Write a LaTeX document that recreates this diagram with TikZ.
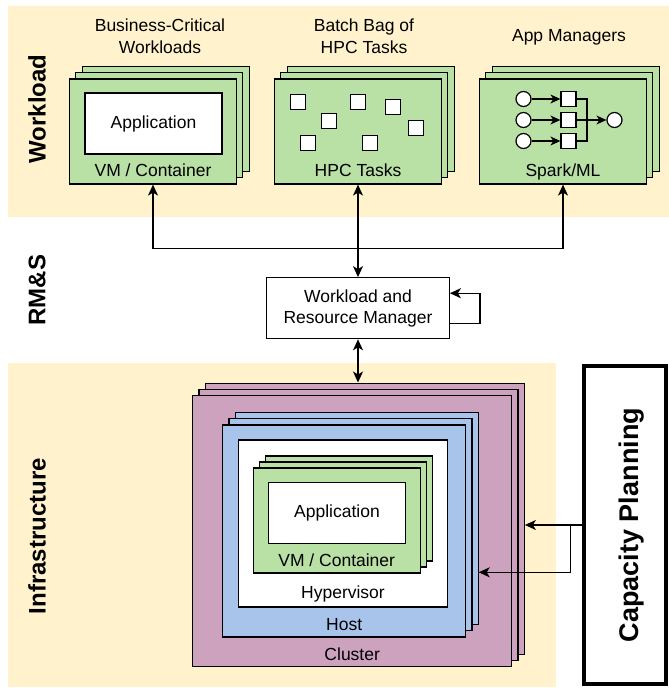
\documentclass[tikz,border=0pt]{standalone}
\usepackage{fontspec}
\setmainfont{Liberation Sans}
\usepackage{xcolor}
\usepackage{tikz}
\usetikzlibrary{positioning,arrows.meta}
\definecolor{bandbg}{HTML}{FFF2CC}
\definecolor{vmgreen}{HTML}{B9E0A5}
\definecolor{hostblue}{HTML}{A9C4EB}
\definecolor{clusterpink}{HTML}{CDA2BE}

\begin{document}
\begin{tikzpicture}[x=1pt,y=-1pt,line width=1.2pt,
>={Stealth[length=11pt,width=10pt,inset=3pt]},
txt/.style={font=\fontsize{17.5}{22}\selectfont,inner sep=0pt},
layer/.style={font=\fontsize{24}{28}\selectfont\bfseries,rotate=90,inner sep=0pt},
band/.style={fill=bandbg,draw=none},
box/.style={draw,rectangle,inner sep=0pt},
vmbox/.style={box,fill=vmgreen,minimum width=167pt,minimum height=105pt},
appbox/.style={box,fill=white,minimum width=137pt,minimum height=61pt},
clbox/.style={box,fill=clusterpink,minimum width=319pt,minimum height=271pt},
hostbox/.style={box,fill=hostblue,minimum width=243pt,minimum height=212pt},
task/.style={box,fill=white,minimum size=15pt},
stage/.style={box,circle,fill=white,minimum size=15pt},
small/.style={-{Stealth[length=10pt,width=9pt,inset=3pt]}}]
\useasboundingbox (0,0) rectangle (669,688);
\fill[band] (8,6) rectangle (669,217);
\fill[band] (8,363) rectangle (556,687);
\node[layer] (wl) at (37,109) {Workload};
\node[layer] (rms) at (37,290) {RM\&S};
\node[layer] (infra) at (37,536) {Infrastructure};

% workload stacks
\node[txt,align=center] (bctitle) at (160,36) {Business-Critical\\Workloads};
\node[txt,align=center] (batchtitle) at (364,36) {Batch Bag of\\HPC Tasks};
\node[txt,anchor=base] (apptitle) at (569,41) {App Managers};
\foreach \s/\cx in {vm/153,hpc/358,spark/563}
  \foreach \d in {2,1}
    \node[vmbox] (\s back\d) at (\cx+6.3*\d,131.5-6.3*\d) {};
\node[vmbox] (vm) at (153,131.5) {};
\node[vmbox] (hpc) at (358,131.5) {};
\node[vmbox] (spark) at (563,131.5) {};
\node[appbox,txt] (app) at (153.5,123.5) {Application};
\node[txt,anchor=base] (vmlbl) at (153,176.3) {VM / Container};
\node[txt,anchor=base] (hpclbl) at (358,176.3) {HPC Tasks};
\node[txt,anchor=base] (sparklbl) at (563,176.3) {Spark/ML};
\foreach \n/\x/\y in {1/298/102,2/358/102,3/393/107,4/329/121,5/416/128,6/308/143,7/370/143}
  \node[task] (task\n) at (\x,\y) {};
\foreach \r/\y in {a/99,b/120,c/141} {
  \node[stage] (in\r) at (523.5,\y) {};
  \node[task] (st\r) at (568.5,\y) {};
  \draw[small] (in\r) -- (st\r);
}
\node[stage] (out) at (614.5,120) {};
\coordinate (join) at (587,120);
\draw (sta.east) -| (join) |- (stc.east);
\draw[small] (stb) -- (out);

% resource manager
\node[box,txt,fill=white,align=center,minimum width=182.6pt,minimum height=61pt,
  font=\fontsize{17.5}{21}\selectfont] (rm) at (358,308.2) {Workload and\\Resource Manager};
\coordinate (hub) at (358,248.3);
\draw[->] (hub) -| (vm.south);
\draw[->] (hub) -| (spark.south);
\draw[<->] (rm.north) -- (hpc.south);
\draw[->] ([yshift=-15pt]rm.east) -- ++(30,0) |- ([yshift=15pt]rm.east);

% infrastructure
\foreach \d in {2,1}
  \node[clbox] (cl\d) at (352.2+6.3*\d,531.2-6.3*\d) {};
\node[clbox] (cluster) at (352.2,531.2) {};
\node[txt,anchor=base] (cllbl) at (352.2,660) {Cluster};
\foreach \d in {2,1}
  \node[hostbox] (hs\d) at (344.2+6.2*\d,531-6.2*\d) {};
\node[hostbox] (host) at (344.2,531) {};
\node[txt,anchor=base] (hostlbl) at (344.2,630.5) {Host};
\node[box,fill=white,minimum width=209.4pt,minimum height=167pt] (hyp) at (343,523.5) {};
\node[txt,anchor=base] (hyplbl) at (343,598.5) {Hypervisor};
\foreach \d in {2,1}
  \node[vmbox] (ivm\d) at (336.7+6*\d,520.5-6*\d) {};
\node[vmbox] (ivm) at (336.7,520.5) {};
\node[appbox,txt] (iapp) at (337,513) {Application};
\node[txt,anchor=base] (ivmlbl) at (336.7,566.3) {VM / Container};
\draw[<->] (rm.south) -- (rm.south |- cl2.north);

% capacity planning
\node[draw,line width=3.5pt,minimum width=82pt,minimum height=318pt,inner sep=0pt] (cap) at (625,525) {};
\node[font=\fontsize{27}{30}\selectfont\bfseries,rotate=90,inner sep=0pt] (caplbl) at (632,525) {Capacity Planning};
\coordinate (split) at (570.7,525);
\coordinate (hostin) at (hs2.east |- 0,572.3);
\draw[->] (cap.west) -- (cl2.east |- cap.west);
\draw[->] (split) |- (hostin);
\end{tikzpicture}
\end{document}
